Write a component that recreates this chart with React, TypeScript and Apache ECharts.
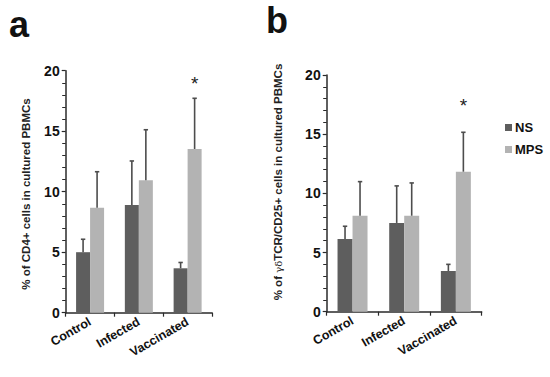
import React, { useEffect, useRef } from "react";
import * as echarts from "echarts";

const categories = ["Control", "Infected", "Vaccinated"];
const seriesNames = ["NS", "MPS"];

// Panel a: % of CD4+ cells
const aNS = [5.0, 8.9, 3.67];
const aNSErr = [6.07, 12.54, 4.15];
const aMPS = [8.68, 10.94, 13.53];
const aMPSErr = [11.65, 15.12, 17.72];
const aStar = [null, null, 19.1];

// Panel b: % of γδTCR/CD25+ cells
const bNS = [6.14, 7.5, 3.44];
const bNSErr = [7.22, 10.63, 4.0];
const bMPS = [8.11, 8.11, 11.83];
const bMPSErr = [10.99, 10.88, 15.16];
const bStar = [null, null, 17.6];

const yTicks = [0, 5, 10, 15, 20];

const NS_COLOR = "#5e5e5e";
const MPS_COLOR = "#b3b3b3";
const AXIS_COLOR = "#2a2a2a";
const ERR_COLOR = "#4d4d4d";
const FONT = "Liberation Sans, Arial, sans-serif";

function errSeries(
  vals: number[],
  errs: number[],
  stars: (number | null)[],
  sign: number,
  bw: number,
  axisIdx: number
) {
  return {
    type: "custom",
    xAxisIndex: axisIdx,
    yAxisIndex: axisIdx,
    z: 5,
    silent: true,
    data: vals.map((v, i) => [i, v, errs[i], stars[i] == null ? -1 : stars[i]]),
    renderItem: (params: any, api: any) => {
      const cat = api.value(0);
      const v = api.value(1);
      const e = api.value(2);
      const s = api.value(3);
      const p0 = api.coord([cat, v]);
      const p1 = api.coord([cat, e]);
      const x = p0[0] + (sign * bw) / 2;
      const children: any[] = [
        {
          type: "line",
          shape: { x1: x, y1: p0[1], x2: x, y2: p1[1] },
          style: { stroke: ERR_COLOR, lineWidth: 1.6 },
        },
        {
          type: "line",
          shape: { x1: x - 2.2, y1: p1[1], x2: x + 2.2, y2: p1[1] },
          style: { stroke: ERR_COLOR, lineWidth: 1.6 },
        },
      ];
      if (s >= 0) {
        const ps = api.coord([cat, s]);
        children.push({
          type: "text",
          x: x,
          y: ps[1] + 2,
          style: {
            text: "*",
            fill: "#222",
            font: `19px ${FONT}`,
            align: "center",
            verticalAlign: "middle",
          },
        });
      }
      return { type: "group", children };
    },
  };
}

export default function App() {
  const ref = useRef<HTMLDivElement>(null);
  useEffect(() => {
    if (!ref.current) return;
    const chart = echarts.init(ref.current, undefined, { renderer: "svg" });

    const yAxisCommon = (idx: number) => ({
      type: "value",
      gridIndex: idx,
      min: yTicks[0],
      max: yTicks[yTicks.length - 1],
      interval: 5,
      axisLine: { show: true, lineStyle: { color: AXIS_COLOR, width: 1.5 } },
      axisTick: { show: true, length: 4, lineStyle: { color: AXIS_COLOR, width: 1.2 } },
      minorTick: { show: true, splitNumber: 5, length: 3.5, lineStyle: { color: AXIS_COLOR, width: 1 } },
      splitLine: { show: false },
      axisLabel: {
        color: "#111",
        fontFamily: FONT,
        fontWeight: "bold",
        fontSize: 14,
        margin: 6,
      },
    });

    const xAxisCommon = (idx: number) => ({
      type: "category",
      gridIndex: idx,
      data: categories,
      axisLine: { show: true, lineStyle: { color: AXIS_COLOR, width: 1.5 } },
      axisTick: { show: true, length: 4, alignWithLabel: false, lineStyle: { color: AXIS_COLOR, width: 1.2 } },
      axisLabel: {
        color: "#111",
        fontFamily: FONT,
        fontWeight: "bold",
        fontSize: 12.5,
        rotate: 30,
        margin: 8,
        interval: 0,
      },
    });

    const option: any = {
      animation: false,
      backgroundColor: "#ffffff",
      grid: [
        { left: 65.7, top: 70.7, width: 146.3, height: 242 },
        { left: 326.7, top: 75, width: 155, height: 236.7 },
      ],
      legend: {
        show: true,
        data: seriesNames,
        orient: "vertical",
        left: 500,
        top: 116,
        itemWidth: 7,
        itemHeight: 7,
        itemGap: 9,
        icon: "rect",
        textStyle: { fontFamily: FONT, fontWeight: "bold", fontSize: 13, color: "#111", padding: [0, 0, 0, -2] },
      },
      xAxis: [xAxisCommon(0), xAxisCommon(1)],
      yAxis: [yAxisCommon(0), yAxisCommon(1)],
      series: [
        { type: "bar", name: seriesNames[0], xAxisIndex: 0, yAxisIndex: 0, data: aNS, barWidth: 14, barGap: "0%", itemStyle: { color: NS_COLOR } },
        { type: "bar", name: seriesNames[1], xAxisIndex: 0, yAxisIndex: 0, data: aMPS, barWidth: 14, barGap: "0%", itemStyle: { color: MPS_COLOR } },
        { type: "bar", name: seriesNames[0], xAxisIndex: 1, yAxisIndex: 1, data: bNS, barWidth: 15, barGap: "0%", itemStyle: { color: NS_COLOR } },
        { type: "bar", name: seriesNames[1], xAxisIndex: 1, yAxisIndex: 1, data: bMPS, barWidth: 15, barGap: "0%", itemStyle: { color: MPS_COLOR } },
        errSeries(aNS, aNSErr, [null, null, null], -1, 14, 0),
        errSeries(aMPS, aMPSErr, aStar, 1, 14, 0),
        errSeries(bNS, bNSErr, [null, null, null], -1, 15, 1),
        errSeries(bMPS, bMPSErr, bStar, 1, 15, 1),
      ],
      graphic: [
        {
          type: "text",
          left: 9,
          top: 6,
          style: { text: "a", font: `bold 36px ${FONT}`, fill: "#111" },
        },
        {
          type: "text",
          left: 266,
          top: 2,
          style: { text: "b", font: `bold 36px ${FONT}`, fill: "#111" },
        },
        {
          type: "text",
          x: 26,
          y: 194,
          rotation: Math.PI / 2,
          style: {
            text: "% of CD4+ cells in cultured PBMCs",
            font: `bold 11.5px ${FONT}`,
            fill: "#222",
            align: "center",
            verticalAlign: "middle",
          },
        },
        {
          type: "text",
          x: 278,
          y: 182,
          rotation: Math.PI / 2,
          style: {
            text: "% of {g|γδ}TCR/CD25+ cells in cultured PBMCs",
            font: `bold 11.5px ${FONT}`,
            fill: "#222",
            align: "center",
            verticalAlign: "middle",
            rich: {
              g: { fontFamily: "DejaVu Serif, serif", fontSize: 10, fontWeight: "normal", fill: "#222" },
            },
          },
        },
      ],
    };
    chart.setOption(option);
    return () => chart.dispose();
  }, []);
  return (
    <div
      ref={ref}
      style={{ position: "fixed", left: 0, top: 0, width: 550, height: 377 }}
    />
  );
}
